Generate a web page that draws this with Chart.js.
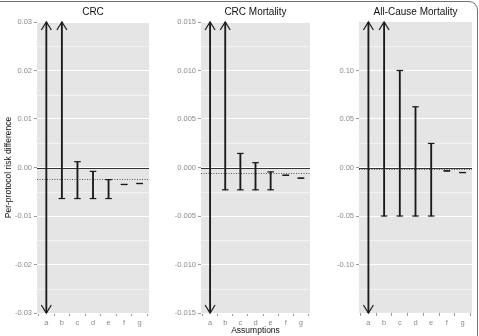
<!DOCTYPE html>
<html>
<head>
<meta charset="utf-8">
<script src="https://cdn.jsdelivr.net/npm/chart.js@4"></script>
<style>
  body { margin: 0; width: 479px; height: 336px; overflow: hidden; background: #fff; position: relative; }
  canvas { position: absolute; top: 0; }
  #frame { position: absolute; left: -20px; top: 1px; width: 498px; height: 400px; border: 1.5px solid #707070; border-radius: 9px; box-sizing: border-box; }
</style>
</head>
<body>
<div id="frame"></div>
<canvas id="crc" width="160" height="336" style="left:0"></canvas>
<canvas id="mort" width="160" height="336" style="left:160px"></canvas>
<canvas id="allcause" width="159" height="336" style="left:320px"></canvas>
<script>
const categories = ["a", "b", "c", "d", "e", "f", "g"];

// null = the interval runs off the panel and is drawn as an arrow
const crcLower = [null, -0.0064, -0.0064, -0.0064, -0.0064, -0.0035, -0.0033];
const crcUpper = [null, null, 0.0012, -0.0008, -0.0025, -0.0035, -0.0033];
const crcRef = -0.0023;
const crcTicks = [-0.03, -0.02, -0.01, 0, 0.01, 0.02, 0.03];

const mortLower = [null, -0.0023, -0.0023, -0.0023, -0.0023, -0.0008, -0.0011];
const mortUpper = [null, null, 0.00145, 0.0005, -0.00045, -0.0008, -0.0011];
const mortRef = -0.00056;
const mortTicks = [-0.015, -0.01, -0.005, 0, 0.005, 0.01, 0.015];

const allLower = [null, -0.05, -0.05, -0.05, -0.05, -0.0035, -0.0052];
const allUpper = [null, null, 0.10, 0.0626, 0.0248, -0.0035, -0.0052];
const allRef = -0.0018;
const allTicks = [-0.10, -0.05, 0, 0.05, 0.10];

Chart.defaults.font.family = '"Liberation Sans", Arial, sans-serif';

function intervalMarks(lower, upper, ref, ticks) {
  return {
    id: 'intervalMarks',
    beforeDraw(chart) {
      const { ctx, chartArea: a, scales: { y } } = chart;
      ctx.save();
      ctx.fillStyle = '#e5e5e5';
      ctx.fillRect(a.left, a.top, a.width, a.height);
      // minor grid lines halfway between ticks
      const step = ticks[1] - ticks[0];
      ctx.strokeStyle = '#f2f2f2';
      ctx.lineWidth = 1;
      for (let k = -10; k < 20; k++) {
        const v = ticks[0] + (k + 0.5) * step;
        if (v <= y.min || v >= y.max) continue;
        const py = Math.round(y.getPixelForValue(v)) + 0.5;
        ctx.beginPath();
        ctx.moveTo(a.left, py);
        ctx.lineTo(a.right, py);
        ctx.stroke();
      }
      ctx.restore();
    },
    beforeDatasetsDraw(chart) {
      const { ctx, chartArea: a, scales: { y } } = chart;
      ctx.save();
      const p0 = Math.round(y.getPixelForValue(0)) + 0.5;
      ctx.strokeStyle = '#333';
      ctx.lineWidth = 1;
      ctx.beginPath();
      ctx.moveTo(a.left, p0);
      ctx.lineTo(a.right, p0);
      ctx.stroke();
      const pr = Math.round(y.getPixelForValue(ref)) + 0.5;
      ctx.strokeStyle = '#555';
      ctx.setLineDash([1, 1.5]);
      ctx.beginPath();
      ctx.moveTo(a.left, pr);
      ctx.lineTo(a.right, pr);
      ctx.stroke();
      ctx.restore();
    },
    afterDatasetsDraw(chart) {
      const { ctx, scales: { x, y } } = chart;
      ctx.save();
      ctx.strokeStyle = '#1a1a1a';
      ctx.lineWidth = 1.2;
      categories.forEach((c, i) => {
        const px = x.getPixelForValue(i);
        [[upper[i], y.max, -1], [lower[i], y.min, 1]].forEach(([v, edge, dir]) => {
          ctx.beginPath();
          if (v === null) {
            const tip = y.getPixelForValue(edge);
            ctx.moveTo(px - 5, tip + dir * -8);
            ctx.lineTo(px, tip);
            ctx.lineTo(px + 5, tip + dir * -8);
          } else {
            const py = y.getPixelForValue(v);
            ctx.moveTo(px - 3.3, py);
            ctx.lineTo(px + 3.3, py);
          }
          ctx.stroke();
        });
      });
      ctx.restore();
    }
  };
}

function makePanel(id, cfg) {
  const { title, lower, upper, ref, ticks, min, max, decimals, yWidth, padRight, yTitle, xTitle } = cfg;
  const stems = categories.map((c, i) => ({ x: i, y: [lower[i] ?? min, upper[i] ?? max] }));
  return new Chart(document.getElementById(id), {
    type: 'bar',
    data: {
      datasets: [{ data: stems, backgroundColor: '#1a1a1a', borderWidth: 0, barThickness: 1.2 }]
    },
    options: {
      responsive: false,
      animation: false,
      layout: { padding: { left: 0, right: padRight, top: 0, bottom: 0 } },
      plugins: {
        legend: { display: false },
        tooltip: { enabled: false },
        title: {
          display: true, text: title, fullSize: false, color: '#111',
          font: { size: 10, weight: 'normal' }, padding: { top: 6.5, bottom: 3.5 }
        }
      },
      scales: {
        x: {
          type: 'linear', min: -0.6, max: 6.6, offset: false,
          afterBuildTicks: s => { s.ticks = categories.map((c, i) => ({ value: i })); },
          afterFit: s => { s.height = 23; },
          ticks: { callback: v => categories[v], color: '#8c8c8c', font: { size: 7.5 }, padding: 2, autoSkip: false, maxRotation: 0 },
          grid: { drawOnChartArea: false, tickLength: 3, tickColor: '#9a9a9a' },
          border: { display: false },
          title: { display: !!xTitle, text: xTitle || '', color: '#111', font: { size: 8.5 }, padding: 0 }
        },
        y: {
          min, max,
          afterBuildTicks: s => { s.ticks = ticks.map(v => ({ value: v })); },
          afterFit: s => { s.width = yWidth; },
          ticks: { callback: v => v.toFixed(decimals), color: '#8c8c8c', font: { size: 7.5 }, padding: 2 },
          grid: { color: '#ffffff', lineWidth: 1, tickLength: 3, tickColor: '#9a9a9a' },
          border: { display: false },
          title: { display: !!yTitle, text: yTitle || '', color: '#111', font: { size: 8.5 }, padding: { top: 4, bottom: 0 } }
        }
      }
    },
    plugins: [intervalMarks(lower, upper, ref, ticks)]
  });
}

makePanel('crc', {
  title: 'CRC', lower: crcLower, upper: crcUpper, ref: crcRef, ticks: crcTicks,
  min: -0.03, max: 0.03, decimals: 2, yWidth: 37, padRight: 11,
  yTitle: 'Per-protocol risk difference'
});
makePanel('mort', {
  title: 'CRC Mortality', lower: mortLower, upper: mortUpper, ref: mortRef, ticks: mortTicks,
  min: -0.015, max: 0.015, decimals: 3, yWidth: 41, padRight: 10,
  xTitle: 'Assumptions'
});
makePanel('allcause', {
  title: 'All-Cause Mortality', lower: allLower, upper: allUpper, ref: allRef, ticks: allTicks,
  min: -0.15, max: 0.15, decimals: 2, yWidth: 39, padRight: 7
});
</script>
</body>
</html>
